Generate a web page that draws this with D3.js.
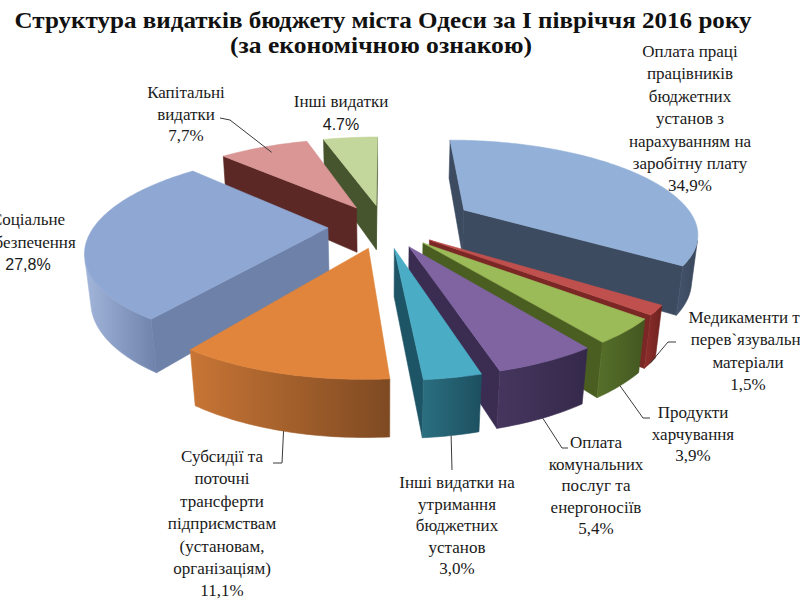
<!DOCTYPE html>
<html><head><meta charset="utf-8">
<script src="https://cdn.jsdelivr.net/npm/d3@7"></script>
<style>body{margin:0;background:#fff}svg{display:block}</style>
</head><body>
<svg id="chart" width="800" height="600"></svg>
<script>
// ---------- data ----------
const titleLines = ["Структура видатків бюджету міста Одеси за І півріччя 2016 року", "(за економічною ознакою)"];
const categories = [
  ["Оплата праці", "працівників", "бюджетних", "установ з", "нарахуванням на", "заробітну плату"],
  ["Медикаменти та", "перев`язувальні", "матеріали"],
  ["Продукти", "харчування"],
  ["Оплата", "комунальних", "послуг та", "енергоносіїв"],
  ["Інші видатки на", "утримання", "бюджетних", "установ"],
  ["Субсидії та", "поточні", "трансферти", "підприємствам", "(установам,", "організаціям)"],
  ["Соціальне", "забезпечення"],
  ["Капітальні", "видатки"],
  ["Інші видатки"]
];
const values = [34.9, 1.5, 3.9, 5.4, 3.0, 11.1, 27.8, 7.7, 4.7];
const decimalMarks = [",", ",", ",", ",", ",", ",", ",", ",", "."];

// ---------- styles ----------
const topColors   = ["#93b1d8", "#c0504d", "#9bbb59", "#8064a2", "#4bacc6", "#e0853b", "#8fa7d3", "#d99694", "#c3d69b"];
const wallColors  = ["#3d4b61", "#7a2725", "#4a5e22", "#3b2d52", "#1e5566", "#9b5522", "#6d81a9", "#5c2826", "#47552f"];
const outerLight  = ["#44546c", "#8e2f2c", "#56702a", "#46365f", "#2a6f80", "#c87535", "#a2b5da", "#6e302e", "#5b6b3d"];
const outerDark   = ["#3a475c", "#6e2220", "#435720", "#35294a", "#1d5060", "#7e4a22", "#6e82ab", "#5c2826", "#47552f"];
const explode     = [0.40, 0.24, 0.24, 0.24, 0.24, 0.24, 0.24, 0.24, 0.24];
const labelLayout = [
  {x: 690, y: 57,  dy: 22.4},
  {x: 748, y: 323, dy: 22.3},
  {x: 693, y: 418, dy: 21.5},
  {x: 596, y: 448, dy: 21.6},
  {x: 457, y: 488, dy: 21.6},
  {x: 222, y: 462, dy: 22.4},
  {x: 28,  y: 225, dy: 22.5, pctFont: "sans"},
  {x: 186, y: 98,  dy: 21.5},
  {x: 341, y: 107, dy: 23,   pctFont: "sans"}
];
const leaders = [
  null,
  {from: "bottom", pts: [[668, 342], [676, 342]]},
  {from: "bottom", pts: [[643, 418], [650, 418]]},
  {from: "bottom", pts: [[562, 448], [568, 448]]},
  {from: "bottom", pts: [[452, 470]]},
  {from: "bottom", pts: [[282, 463], [273, 463]]},
  null,
  {from: "top", pts: [[230, 120], [220, 118]]},
  null
];

// ---------- 3D projection ----------
const cam = {cx: 384, cy: 226, f: 990, D: 4.24, alpha: 23 * Math.PI / 180, h: 0.218};
const sa = Math.sin(cam.alpha), ca = Math.cos(cam.alpha);
const camPos = [0, cam.D * sa, cam.D * ca];
function project(X, Y, Z) {
  const yc = Y * ca - Z * sa;
  const dc = cam.D - (Z * ca + Y * sa);
  return [cam.cx + cam.f * X / dc, cam.cy - cam.f * yc / dc, dc];
}

const svg = d3.select("#chart");
const defs = svg.append("defs");
const pie = d3.pie().sort(null).startAngle(0).endAngle(2 * Math.PI);
const arcs = pie(values);
const radius = d3.scaleLinear().domain([0, 1]).range([0, 1]);

function world(i, a, r, Y) {
  const d = arcs[i];
  const m = (d.startAngle + d.endAngle) / 2;
  const o = explode[i];
  const rr = radius(r);
  return [o * Math.sin(m) + rr * Math.sin(a), Y, -(o * Math.cos(m) + rr * Math.cos(a))];
}
function P(i, a, r, Y) { const w = world(i, a, r, Y); return project(w[0], w[1], w[2]); }
function visible(n, w) {
  return n[0] * (camPos[0] - w[0]) + n[1] * (camPos[1] - w[1]) + n[2] * (camPos[2] - w[2]) > 0;
}
const line = d3.line();

// depth order (far first)
const order = arcs.map((d, i) => {
  const m = (d.startAngle + d.endAngle) / 2;
  return {i, dc: P(i, m, 0.6, -cam.h / 2)[2]};
}).sort((a, b) => b.dc - a.dc);

const gPie = svg.append("g");
order.forEach(({i}) => {
  const d = arcs[i];
  const a0 = d.startAngle, a1 = d.endAngle;
  const H = -cam.h;
  const g = gPie.append("g");
  const face = (pts, col) => g.append("path").attr("d", line(pts.map(p => [p[0], p[1]])) + "Z")
      .attr("fill", col).attr("stroke", col).attr("stroke-width", 0.6).attr("stroke-linejoin", "round");
  // radial walls
  if (visible([-Math.cos(a0), 0, -Math.sin(a0)], world(i, a0, 0.5, H / 2))) {
    face([P(i, a0, 0, 0), P(i, a0, 1, 0), P(i, a0, 1, H), P(i, a0, 0, H)], wallColors[i]);
  }
  if (visible([Math.cos(a1), 0, Math.sin(a1)], world(i, a1, 0.5, H / 2))) {
    face([P(i, a1, 0, 0), P(i, a1, 1, 0), P(i, a1, 1, H), P(i, a1, 0, H)], wallColors[i]);
  }
  // outer wall (visible part, one path with gradient)
  const N = Math.max(4, Math.ceil((a1 - a0) / 0.02));
  const vis = [];
  for (let k = 0; k <= N; k++) {
    const t = a0 + (a1 - a0) * k / N;
    if (visible([Math.sin(t), 0, -Math.cos(t)], world(i, t, 1, H / 2))) vis.push(t);
  }
  if (vis.length > 1) {
    const topE = vis.map(t => P(i, t, 1, 0));
    const botE = vis.map(t => P(i, t, 1, H)).reverse();
    const pts = topE.concat(botE);
    const xs = d3.extent(pts, p => p[0]);
    const gid = "wallGrad" + i;
    const lg = defs.append("linearGradient").attr("id", gid).attr("gradientUnits", "userSpaceOnUse")
      .attr("x1", xs[0]).attr("x2", xs[1]).attr("y1", 0).attr("y2", 0);
    lg.append("stop").attr("offset", 0).attr("stop-color", outerLight[i]);
    lg.append("stop").attr("offset", 1).attr("stop-color", outerDark[i]);
    g.append("path").attr("d", line(pts.map(p => [p[0], p[1]])) + "Z")
      .attr("fill", `url(#${gid})`).attr("stroke", `url(#${gid})`).attr("stroke-width", 0.6);
  }
  // top face
  const topPts = [P(i, a0, 0, 0)];
  for (let k = 0; k <= N; k++) topPts.push(P(i, a0 + (a1 - a0) * k / N, 1, 0));
  face(topPts, topColors[i]);
});

// ---------- leaders ----------
leaders.forEach((ld, i) => {
  if (!ld) return;
  const d = arcs[i];
  const m = (d.startAngle + d.endAngle) / 2;
  const s = ld.from === "top" ? P(i, m, 0.9, 0) : P(i, m, 1.0, -cam.h);
  const pts = [[s[0], s[1]]].concat(ld.pts);
  svg.append("path").attr("d", d3.line()(pts)).attr("fill", "none")
    .attr("stroke", "#3a3a3a").attr("stroke-width", 1);
});

// ---------- labels ----------
const fmt = d3.format(".1f");
categories.forEach((lines, i) => {
  const L = labelLayout[i];
  const t = svg.append("text").attr("text-anchor", "middle")
    .attr("font-family", "Liberation Serif, Times New Roman, serif")
    .attr("font-size", 17).attr("fill", "#1a1a1a");
  lines.forEach((ln, k) => t.append("tspan").attr("x", L.x).attr("y", L.y + k * L.dy).text(ln));
  const pct = fmt(values[i]).replace(".", decimalMarks[i]) + "%";
  const tp = t.append("tspan").attr("x", L.x).attr("y", L.y + lines.length * L.dy).text(pct);
  if (L.pctFont === "sans") tp.attr("font-family", "Liberation Sans, Arial, sans-serif").attr("font-size", 16);
});

// ---------- title ----------
const titleLayout = [{x: 383, y: 28, w: 737}, {x: 381, y: 53, w: 302}];
titleLines.forEach((tl, k) => {
  svg.append("text").attr("x", titleLayout[k].x).attr("y", titleLayout[k].y)
    .attr("text-anchor", "middle").attr("font-family", "Liberation Serif, Times New Roman, serif")
    .attr("font-weight", "bold").attr("font-size", 23).attr("fill", "#111")
    .attr("textLength", titleLayout[k].w).attr("lengthAdjust", "spacingAndGlyphs").text(tl);
});
</script>
</body></html>
